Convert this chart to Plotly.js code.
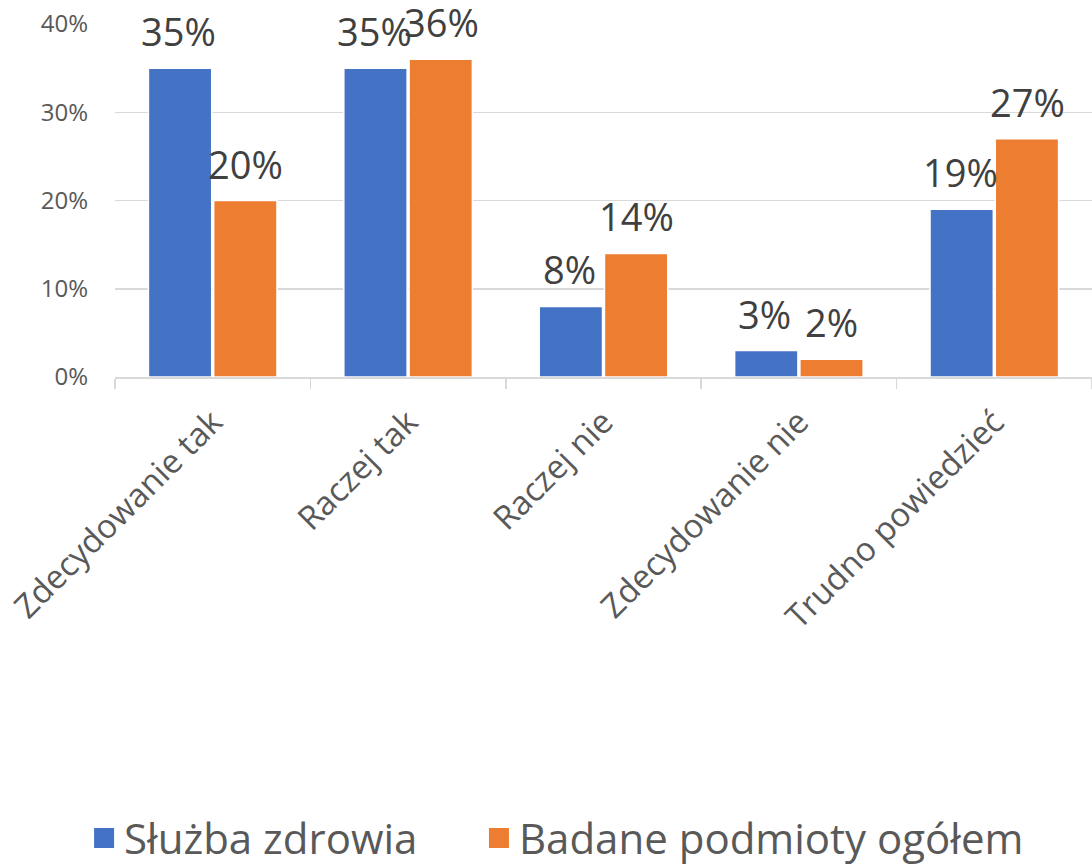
<!DOCTYPE html>
<html>
<head>
<meta charset="utf-8">
<script src="https://cdn.plot.ly/plotly-3.0.1.min.js"></script>
<style>html,body{margin:0;padding:0;background:#fff;}#chart{width:1092px;height:865px;}</style>
</head>
<body>
<div id="chart"></div>
<script>
const categories = ["Zdecydowanie tak", "Raczej tak", "Raczej nie", "Zdecydowanie nie", "Trudno powiedzieć"];
const seriesNames = ["Służba zdrowia", "Badane podmioty ogółem"];
const sluzbaZdrowia = [0.35, 0.35, 0.08, 0.03, 0.19];
const badanePodmioty = [0.20, 0.36, 0.14, 0.02, 0.27];
const yTickVals = [0, 0.1, 0.2, 0.3, 0.4];
const yTickText = ["0%", "10%", "20%", "30%", "40%"];
const colors = ["#4472C4", "#ED7D31"];

const seriesValues = [sluzbaZdrowia, badanePodmioty];
const legendIds = ["legend", "legend2"];

const traces = seriesValues.map((vals, i) => ({
  type: "bar",
  name: seriesNames[i],
  x: categories,
  y: vals,
  showlegend: false,
  marker: {color: colors[i], line: {color: "#ffffff", width: 1.5}},
  hoverinfo: "skip"
}));
// legend-only entries (no data) so the legend swatches can be larger
seriesNames.forEach((name, i) => {
  traces.push({
    type: "scatter", mode: "markers",
    name: name, x: [null], y: [null],
    legend: legendIds[i], showlegend: true,
    marker: {symbol: "square", size: 16, color: colors[i], line: {color: colors[i], width: 4}},
    hoverinfo: "skip"
  });
});

const offsets = [-34, 33];
const annotations = [];
seriesValues.forEach((vals, i) => {
  vals.forEach((v, j) => {
    annotations.push({
      x: categories[j], y: v, xref: "x", yref: "y",
      text: Math.round(v * 100) + "%",
      showarrow: false,
      xshift: offsets[i], yshift: 37,
      yanchor: "middle", xanchor: "center",
      font: {family: "Open Sans", size: 38, color: "#404040"}
    });
  });
});

const legendBase = {
  orientation: "h", xref: "container", yref: "container",
  xanchor: "left", yanchor: "middle",
  font: {family: "Open Sans", size: 42, color: "#595959"},
  itemwidth: 30, bgcolor: "rgba(0,0,0,0)"
};

const layout = {
  width: 1092, height: 865,
  margin: {l: 115, r: 0, t: 24, b: 488},
  paper_bgcolor: "#ffffff", plot_bgcolor: "#ffffff",
  barmode: "group", bargap: 0.332, bargroupgap: 0.03,
  showlegend: true,
  legend: Object.assign({}, legendBase, {x: 0.077, y: 0.031}),
  legend2: Object.assign({}, legendBase, {x: 0.4386, y: 0.031}),
  xaxis: {
    type: "category",
    categoryorder: "array", categoryarray: categories,
    tickangle: -45,
    tickson: "boundaries",
    ticks: "outside", ticklen: 10, tickcolor: "#d9d9d9", tickwidth: 1.5,
    showline: true, linecolor: "#d9d9d9", linewidth: 1.5,
    showgrid: false, zeroline: false,
    ticklabelstandoff: 11,
    tickfont: {family: "Open Sans", size: 33, color: "#595959"}
  },
  yaxis: {
    range: [0, 0.4],
    tickvals: yTickVals, ticktext: yTickText,
    showgrid: true, gridcolor: "#d9d9d9", gridwidth: 1.5,
    zeroline: false, showline: false,
    ticks: "", ticklabelstandoff: 26,
    tickfont: {family: "Open Sans", size: 24, color: "#595959"}
  },
  annotations: annotations
};

Plotly.newPlot("chart", traces, layout, {displayModeBar: false, staticPlot: true});
</script>
</body>
</html>
